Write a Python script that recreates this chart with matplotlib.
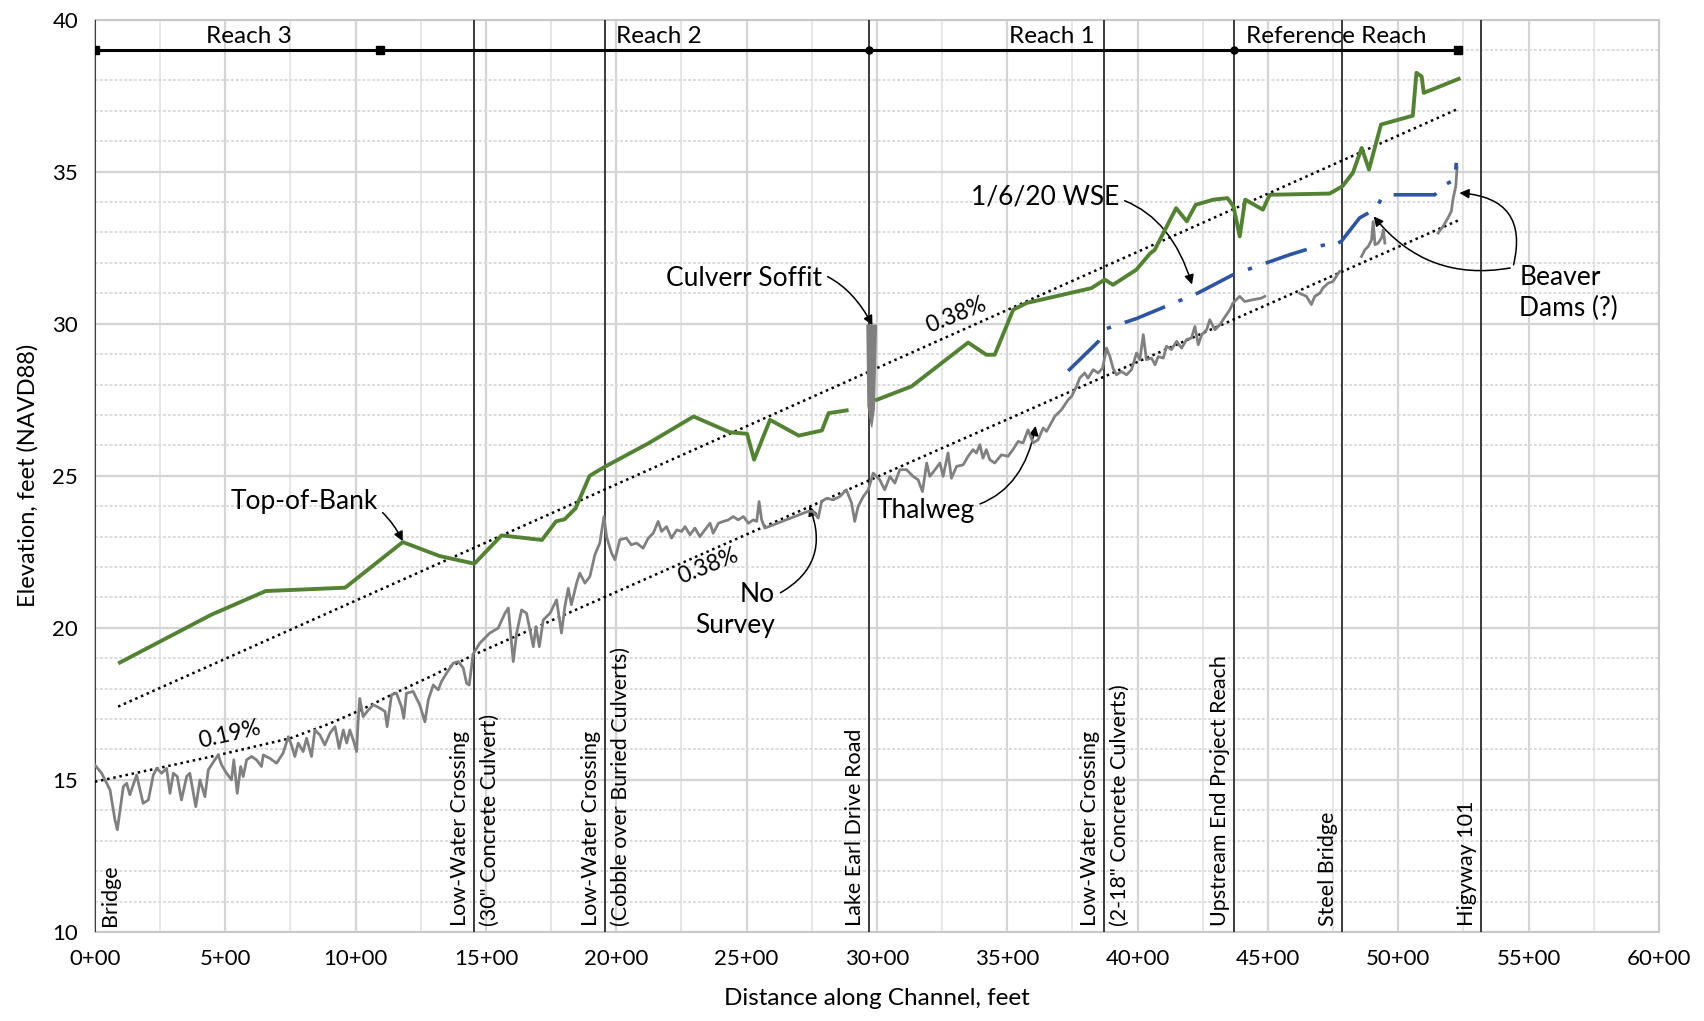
import numpy as np
import matplotlib
matplotlib.use("Agg")
import matplotlib.pyplot as plt
from matplotlib.ticker import MultipleLocator, FuncFormatter

plt.rcParams["font.family"] = ["Lato", "DejaVu Sans"]

# === Data (station in feet, elevation in feet NAVD88) ===
thalweg_st = [0, 26, 58, 77, 86, 109, 122, 134, 147, 160, 173, 185, 205, 224, 237, 256, 275, 288, 301, 316,
              332, 352, 364, 387, 403, 422, 435, 460, 473, 486, 505, 524, 533, 546, 559, 569, 582, 601, 620, 639,
              646, 671, 697, 722, 742, 754, 767, 780, 799, 812, 831, 844, 863, 882, 902, 921, 937, 953, 966, 978,
              991, 1004, 1010, 1016, 1029, 1049, 1068, 1093, 1113, 1121, 1138, 1157, 1176, 1185, 1195, 1221, 1246,
              1266, 1279, 1298, 1317, 1330, 1349, 1375, 1394, 1413, 1426, 1436, 1451, 1477, 1515, 1547, 1573, 1586,
              1605, 1618, 1637, 1656, 1682, 1692, 1705, 1720, 1746, 1771, 1790, 1803, 1816, 1828, 1848, 1860, 1880,
              1899, 1918, 1937, 1953, 1963, 1982, 1995, 2014, 2039, 2058, 2078, 2103, 2123, 2142, 2161, 2174, 2193,
              2212, 2232, 2251, 2264, 2283, 2302, 2321, 2340, 2360, 2372, 2392, 2411, 2430, 2449, 2468, 2488, 2507,
              2526, 2539, 2548, 2558, 2570, 2736, 2755, 2775, 2788, 2807, 2833, 2858, 2883, 2903, 2915, 2928, 2948,
              2967, 2986, 3011, 3030, 3050, 3069, 3088, 3114, 3139, 3158, 3175, 3191, 3203, 3223, 3242, 3254, 3273,
              3286, 3306, 3331, 3350, 3369, 3382, 3395, 3407, 3420, 3433, 3452, 3478, 3503, 3522, 3542, 3561, 3580,
              3599, 3618, 3638, 3651, 3683, 3708, 3734, 3747, 3766, 3778, 3797, 3810, 3830, 3849, 3866, 3881, 3894,
              3906, 3919, 3938, 3958, 3977, 3996, 4009, 4022, 4034, 4054, 4067, 4079, 4099, 4111, 4130, 4150, 4169,
              4188, 4207, 4220, 4233, 4246, 4265, 4277, 4297, 4316, 4328, 4354, 4366, 4392, 4411, 4443, 4475, 4488]
thalweg_el = [15.49, 15.22, 14.67, 13.68, 13.36, 14.78, 14.89, 14.51, 14.84, 15.16, 14.67, 14.23, 14.34, 15.16,
              15.38, 15.22, 15.38, 14.56, 15.22, 15.11, 14.34, 15.11, 15.22, 14.12, 15.00, 14.45, 15.33, 15.66,
              15.82, 15.49, 15.22, 15.00, 15.66, 14.56, 15.44, 15.11, 15.66, 15.77, 15.66, 15.44, 15.82, 15.71,
              15.55, 15.88, 16.42, 16.15, 15.77, 16.21, 15.93, 16.37, 15.77, 16.64, 16.48, 16.15, 16.54, 16.75,
              16.04, 16.64, 16.21, 16.64, 16.32, 15.93, 16.97, 17.68, 17.08, 17.30, 17.47, 17.36, 17.25, 16.75,
              17.80, 17.85, 17.41, 17.03, 17.85, 17.91, 17.47, 16.91, 17.63, 18.12, 17.96, 18.24, 18.51, 18.84,
              18.89, 18.68, 18.18, 18.12, 19.14, 19.50, 19.83, 19.99, 20.48, 20.65, 18.89, 19.83, 20.59, 20.48,
              19.38, 20.04, 19.38, 20.26, 20.48, 20.92, 19.83, 20.70, 21.30, 20.76, 21.47, 21.80, 21.47, 21.69,
              22.40, 22.79, 23.66, 23.00, 22.46, 22.24, 22.90, 22.95, 22.73, 22.79, 22.62, 22.95, 23.11, 23.50,
              23.17, 23.33, 22.95, 23.22, 23.17, 23.33, 23.06, 23.28, 23.00, 23.22, 23.44, 23.11, 23.44, 23.50,
              23.55, 23.66, 23.55, 23.66, 23.44, 23.55, 23.50, 24.15, 23.55, 23.28, 23.83, 23.83, 23.61, 24.15,
              24.26, 24.21, 24.32, 24.54, 24.10, 23.50, 23.99, 24.32, 24.54, 25.09, 24.87, 24.54, 24.98, 24.76,
              25.20, 25.20, 24.98, 24.87, 24.48, 25.42, 24.98, 25.20, 25.42, 24.98, 25.75, 24.92, 25.31, 25.36,
              25.64, 25.86, 25.75, 26.02, 25.58, 25.86, 25.53, 25.42, 25.69, 25.64, 25.86, 26.13, 26.08, 26.51,
              26.08, 26.18, 26.57, 26.46, 26.96, 27.17, 27.50, 27.61, 27.94, 28.21, 28.38, 28.21, 28.49, 28.38,
              28.54, 29.20, 28.92, 28.54, 28.32, 28.43, 28.32, 28.49, 29.04, 28.82, 29.64, 28.82, 28.87, 28.65,
              28.92, 28.87, 29.26, 29.15, 29.42, 29.20, 29.48, 29.53, 29.91, 29.31, 29.64, 29.80, 30.13, 29.80,
              29.97, 30.13, 30.46, 30.68, 30.90, 30.73, 30.79, 30.84, 30.90]

# short surveyed pieces in the reference reach
thalweg2_st = [4622, 4648, 4667, 4680, 4699, 4711, 4731, 4750, 4763, 4775]
thalweg2_el = [31.00, 30.90, 30.63, 30.90, 31.00, 31.17, 31.33, 31.39, 31.56, 31.72]
thalweg3_st = [4859, 4872, 4885, 4898, 4904, 4911, 4923, 4936, 4943, 4949]
thalweg3_el = [32.21, 32.43, 32.54, 32.76, 33.36, 32.60, 32.65, 32.82, 33.09, 32.65]
thalweg4_st = [5153, 5172, 5191, 5204, 5210, 5221, 5226]
thalweg4_el = [32.98, 33.20, 33.48, 33.70, 34.08, 34.52, 35.15]

bank1_st = [96, 446, 655, 960, 1181, 1323, 1456, 1560, 1715, 1769, 1802, 1844, 1898, 1957, 2124, 2297,
            2436, 2502, 2529, 2590, 2700, 2789, 2815, 2884]
bank1_el = [18.86, 20.43, 21.21, 21.32, 22.82, 22.36, 22.11, 23.04, 22.89, 23.50, 23.57, 23.93, 25.00, 25.30,
            26.07, 26.95, 26.43, 26.38, 25.53, 26.84, 26.32, 26.49, 27.06, 27.15]
bank2_st = [3000, 3133, 3350, 3420, 3452, 3523, 3574, 3823, 3874, 3906, 3996, 4047, 4066, 4148, 4189, 4223,
            4291, 4345, 4368, 4392, 4413, 4481, 4507, 4737, 4786, 4826, 4860, 4888, 4934, 5056, 5070, 5090,
            5098, 5232]
bank2_el = [27.50, 27.94, 29.38, 28.98, 28.98, 30.46, 30.68, 31.17, 31.45, 31.28, 31.78, 32.30, 32.43, 33.80,
            33.37, 33.91, 34.08, 34.13, 33.86, 32.87, 34.08, 33.75, 34.24, 34.28, 34.52, 34.96, 35.78, 35.07,
            36.55, 36.84, 38.25, 38.13, 37.59, 38.05]

wse_st = [3734, 3849, 3881, 3996, 4232, 4366, 4494, 4584, 4686, 4725, 4744, 4782, 4852, 4885, 4917, 4936,
          4974, 5140, 5179, 5217, 5223]
wse_el = [28.45, 29.41, 29.84, 30.17, 31.01, 31.61, 32.00, 32.27, 32.54, 32.60, 32.54, 32.71, 33.48, 33.64,
          33.81, 34.13, 34.24, 34.24, 34.57, 34.74, 35.29]

soffit_st = [2962, 2998, 2990, 2980, 2966]
soffit_el = [29.95, 29.95, 27.2, 26.6, 27.3]

trend_up_st = [89, 5231]
trend_up_el = [17.41, 37.07]
trend_lo_st = [0, 240, 480, 750, 900, 1020, 1150, 1300, 1450, 5231]
trend_lo_el = [14.94, 15.38, 15.83, 16.37, 16.85, 17.30, 17.85, 18.45, 19.10, 33.40]

reach_st = [0, 1093, 2970, 4372, 5231]
reach_labels = ["Reach 3", "Reach 2", "Reach 1", "Reference Reach"]
reach_label_st = [592, 2165, 3671, 4764]

# structures: station, text left of line, text right of line
struct_st = [0, 1456, 1957, 2970, 3872, 4372, 4785, 5319]
struct_left = [None, "Low-Water Crossing", "Low-Water Crossing", "Lake Earl Drive Road", "Low-Water Crossing",
               "Upstream End Project Reach", "Steel Bridge", "Higyway 101"]
struct_right = ["Bridge", "(30\" Concrete Culvert)", "(Cobble over Buried Culverts)", None,
                "(2-18\" Concrete Culverts)", None, None, None]

fig = plt.figure(figsize=(17.04, 10.21), dpi=100)
ax = fig.add_axes([0.0557, 0.0872, 0.9178, 0.8936])

ax.set_xlim(0, 6000)
ax.set_ylim(10, 40)
ax.xaxis.set_major_locator(MultipleLocator(500))
ax.xaxis.set_minor_locator(MultipleLocator(250))
ax.yaxis.set_major_locator(MultipleLocator(5))
ax.yaxis.set_minor_locator(MultipleLocator(1))
ax.xaxis.set_major_formatter(FuncFormatter(lambda v, p: f"{int(round(v / 100))}+00"))
ax.grid(which="major", color="#d4d4d4", lw=1.6)
ax.grid(which="minor", axis="x", color="#e2e2e2", lw=1.2)
ax.grid(which="minor", axis="y", color="#dcdcdc", lw=1.4, ls=(0, (1.5, 1)))
ax.tick_params(which="both", length=0, labelsize=16, pad=12)
for s in ax.spines.values():
    s.set_color("#c8c8c8")
    s.set_linewidth(1.5)
ax.set_xlabel("Distance along Channel, feet", fontsize=17.5, labelpad=14)
ax.set_ylabel("Elevation, feet (NAVD88)", fontsize=17, labelpad=10)

# structure lines and labels
for st, lt, rt in zip(struct_st, struct_left, struct_right):
    ax.axvline(st, color="#3a3a3a", lw=1.4, zorder=3)
    if lt:
        ax.annotate(lt, xy=(st, 10), xytext=(-3, 4), textcoords="offset points", rotation=90,
                    ha="right", va="bottom", fontsize=15.5)
    if rt:
        ax.annotate(rt, xy=(st, 10), xytext=(4, 4), textcoords="offset points", rotation=90,
                    ha="left", va="bottom", fontsize=15.5)

# reach bar
ax.plot([reach_st[0], reach_st[-1]], [39, 39], color="black", lw=2.2, zorder=4)
ax.plot([reach_st[0], reach_st[1], reach_st[-1]], [39, 39, 39], ls="none", marker="s", ms=6, color="black", zorder=5)
ax.plot([reach_st[2], reach_st[3]], [39, 39], ls="none", marker="o", ms=5, color="black", zorder=5)
for lab, st in zip(reach_labels, reach_label_st):
    ax.text(st, 39.1, lab, ha="center", va="bottom", fontsize=17.5)

# trend lines
ax.plot(trend_up_st, trend_up_el, color="black", ls=(0, (1, 1.5)), lw=1.8, zorder=4)
ax.plot(trend_lo_st, trend_lo_el, color="black", ls=(0, (1, 1.5)), lw=1.8, zorder=4)

# profiles
for xs, ys in [(thalweg_st, thalweg_el), (thalweg2_st, thalweg2_el), (thalweg3_st, thalweg3_el),
               (thalweg4_st, thalweg4_el)]:
    ax.plot(xs, ys, color="#808080", lw=2, zorder=5)
ax.fill(soffit_st, soffit_el, color="#7f7f7f", zorder=5)
ax.plot(bank1_st, bank1_el, color="#548235", lw=2.8, zorder=6)
ax.plot(bank2_st, bank2_el, color="#548235", lw=2.8, zorder=6)
ax.plot(wse_st, wse_el, color="#2f55a0", lw=2.6, dashes=(12, 4, 1.2, 4), zorder=6)

# slope labels
ax.text(3304, 30.29, "0.38%", rotation=22, ha="center", va="center", fontsize=16.5)
ax.text(2353, 22.04, "0.38%", rotation=22, ha="center", va="center", fontsize=16.5)
ax.text(517, 16.5, "0.19%", rotation=13, ha="center", va="center", fontsize=16.5)

# callouts
arw = dict(arrowstyle="-|>", color="black", lw=1.1, mutation_scale=14, shrinkA=2, shrinkB=0)
ax.annotate("Top-of-Bank", xy=(1181, 22.85), xytext=(1085, 24.14), ha="right", va="center", fontsize=19,
            arrowprops=dict(arw, connectionstyle="arc3,rad=-0.45"))
ax.annotate("Culverr Soffit", xy=(2983, 29.95), xytext=(2791, 31.5), ha="right", va="center", fontsize=19,
            arrowprops=dict(arw, connectionstyle="arc3,rad=-0.45"))
ax.annotate("1/6/20 WSE", xy=(4209, 31.29), xytext=(3930, 34.18), ha="right", va="center", fontsize=19,
            arrowprops=dict(arw, connectionstyle="arc3,rad=-0.45"))
ax.annotate("Thalweg", xy=(3609, 26.64), xytext=(3375, 23.86), ha="right", va="center", fontsize=19,
            arrowprops=dict(arw, connectionstyle="arc3,rad=0.45"))
ax.annotate("No\nSurvey", xy=(2741, 24.0), xytext=(2610, 20.6), ha="right", va="center", fontsize=19,
            linespacing=1.3, arrowprops=dict(arw, connectionstyle="arc3,rad=0.45", relpos=(1.0, 0.75)))
ax.text(5465, 31.0, "Beaver\nDams (?)", ha="left", va="center", fontsize=19, linespacing=1.3)
ax.annotate("", xy=(4906, 33.53), xytext=(5440, 31.85),
            arrowprops=dict(arw, connectionstyle="arc3,rad=-0.3"))
ax.annotate("", xy=(5235, 34.3), xytext=(5440, 31.85),
            arrowprops=dict(arw, connectionstyle="arc3,rad=0.6"))

fig.savefig("out.png", dpi=100)
